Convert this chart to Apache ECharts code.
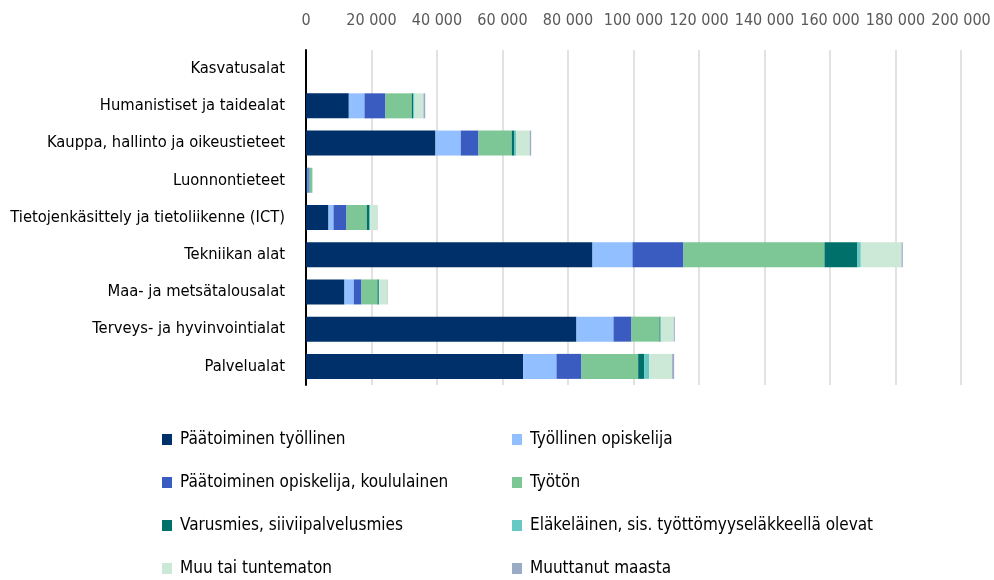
<!DOCTYPE html>
<html>
<head>
<meta charset="utf-8">
<script src="https://cdn.jsdelivr.net/npm/echarts@6/dist/echarts.min.js"></script>
<style>
  html, body { margin: 0; padding: 0; background: #fff; }
  #chart { width: 994px; height: 580px; }
</style>
</head>
<body>
<div id="chart"></div>
<script>
// Education fields (top to bottom)
const categories = [
  'Kasvatusalat',
  'Humanistiset ja taidealat',
  'Kauppa, hallinto ja oikeustieteet',
  'Luonnontieteet',
  'Tietojenkäsittely ja tietoliikenne (ICT)',
  'Tekniikan alat',
  'Maa- ja metsätalousalat',
  'Terveys- ja hyvinvointialat',
  'Palvelualat'
];

// Main activity groups, one array per stacked segment
const paatoiminenTyollinen = [0, 13070, 39540, 500, 6870, 87480, 11750, 82590, 66310];
const tyollinenOpiskelija = [0, 4790, 7720, 200, 1530, 12210, 2840, 11300, 10170];
const paatoiminenOpiskelija = [0, 6410, 5400, 400, 3970, 15570, 2350, 5500, 7630];
const tyoton = [0, 8030, 10170, 700, 6200, 43050, 4890, 8550, 17310];
const varusmies = [0, 430, 820, 50, 820, 10080, 400, 300, 1830];
const elakelainen = [0, 400, 520, 30, 200, 1010, 100, 100, 1530];
const muuTaiTuntematon = [0, 2750, 4150, 200, 2140, 12430, 2560, 3970, 7020];
const muuttanutMaasta = [0, 520, 430, 30, 100, 400, 100, 300, 610];

const seriesNames = [
  'Päätoiminen työllinen',
  'Työllinen opiskelija',
  'Päätoiminen opiskelija, koululainen',
  'Työtön',
  'Varusmies, siiviipalvelusmies',
  'Eläkeläinen, sis. työttömyyseläkkeellä olevat',
  'Muu tai tuntematon',
  'Muuttanut maasta'
];
const seriesData = [
  paatoiminenTyollinen, tyollinenOpiskelija, paatoiminenOpiskelija, tyoton,
  varusmies, elakelainen, muuTaiTuntematon, muuttanutMaasta
];
const colors = ['#00306a', '#91bfff', '#3a5bc0', '#7dc797', '#00706b', '#66c9c3', '#cce8d7', '#9aabc6'];

// X-axis range
const xMax = 200000;
const xStep = 20000;

const fontFamily = "'Liberation Sans Narrow', 'DejaVu Sans Condensed', 'Roboto Condensed', sans-serif";

const chart = echarts.init(document.getElementById('chart'), null, { renderer: 'canvas' });

const legendBase = {
  orient: 'vertical',
  top: 431,
  padding: 0,
  itemGap: 26,
  itemWidth: 10,
  itemHeight: 11,
  icon: 'rect',
  textStyle: { fontFamily: fontFamily, fontSize: 17, color: '#000', padding: [0, 0, 0, 3] },
  selectedMode: false
};

chart.setOption({
  color: colors,
  animation: false,
  textStyle: { fontFamily: fontFamily },
  grid: { left: 306, right: 33, top: 50, bottom: 195, containLabel: false, outerBoundsMode: 'none' },
  xAxis: {
    type: 'value',
    position: 'top',
    min: 0,
    max: xMax,
    interval: xStep,
    axisLine: { show: false },
    axisTick: { show: false },
    splitLine: { lineStyle: { color: '#d9d9d9', width: 1.5 } },
    axisLabel: {
      fontFamily: fontFamily,
      fontSize: 16,
      color: '#595959',
      margin: 21,
      formatter: v => String(v).replace(/\B(?=(\d{3})+(?!\d))/g, ' ')
    }
  },
  yAxis: {
    type: 'category',
    inverse: true,
    data: categories,
    axisLine: { show: true, lineStyle: { color: '#000', width: 2 } },
    axisTick: { show: false },
    axisLabel: { fontFamily: fontFamily, fontSize: 16.4, color: '#000', margin: 21 }
  },
  legend: [
    Object.assign({}, legendBase, { left: 162, data: [seriesNames[0], seriesNames[2], seriesNames[4], seriesNames[6]] }),
    Object.assign({}, legendBase, { left: 512, data: [seriesNames[1], seriesNames[3], seriesNames[5], seriesNames[7]] })
  ],
  series: seriesNames.map((name, i) => ({
    name: name,
    type: 'bar',
    stack: 'total',
    barWidth: 25,
    data: seriesData[i]
  }))
});
</script>
</body>
</html>
